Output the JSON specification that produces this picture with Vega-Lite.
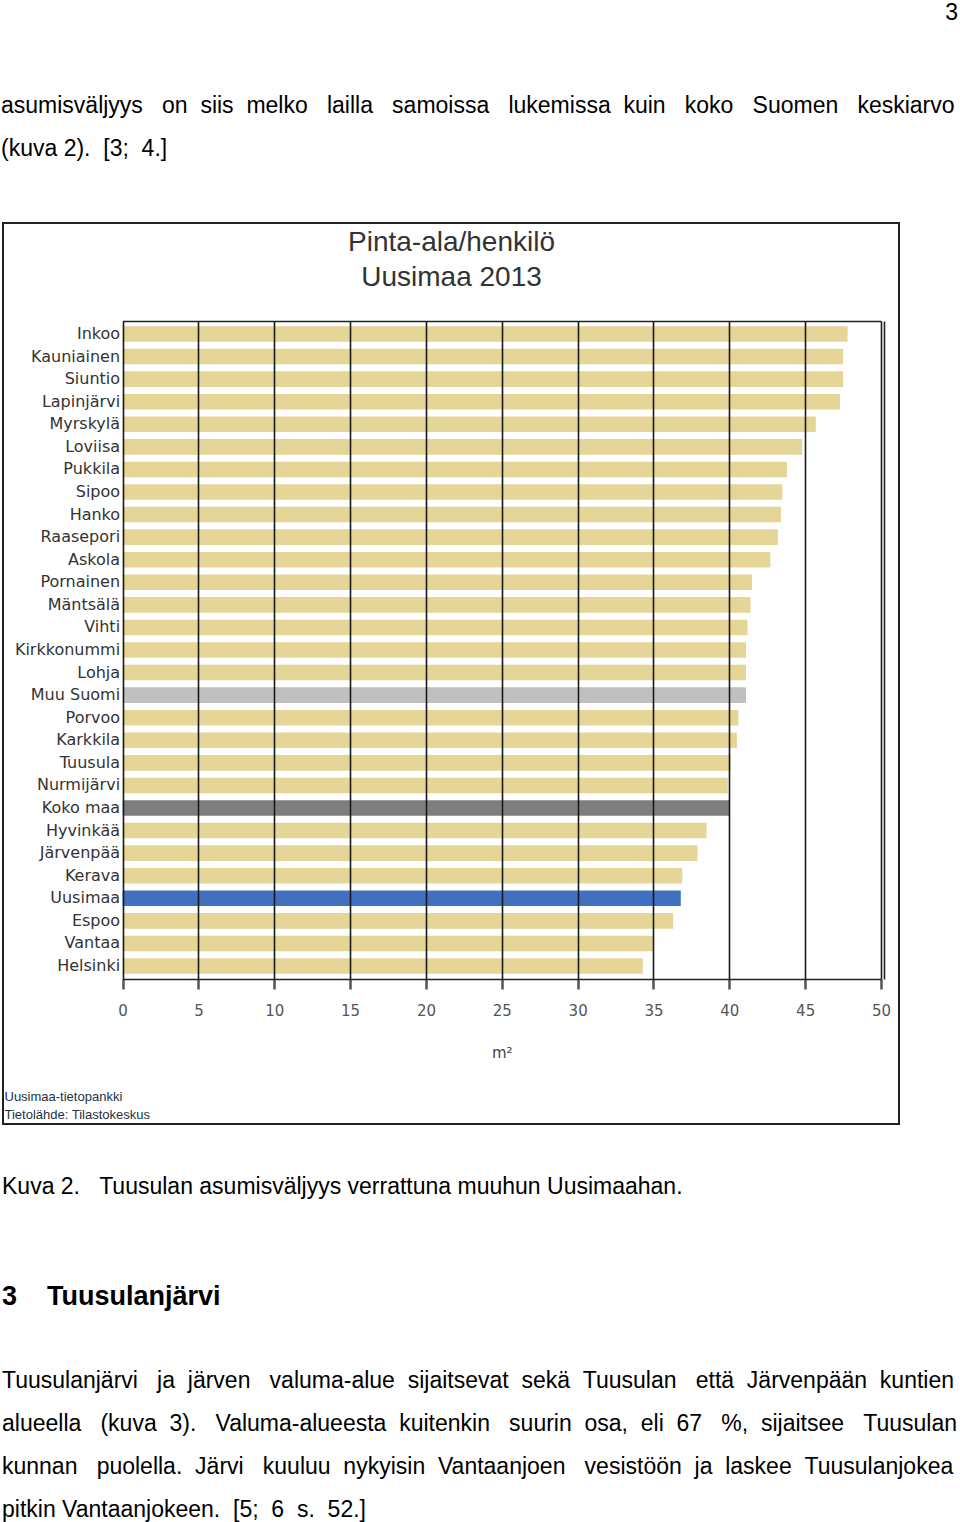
{
  "$schema": "https://vega.github.io/schema/vega-lite/v6.json",
  "padding": {"top": 2, "left": 0, "right": 0, "bottom": 0},
  "background": "white",
  "spacing": 51,
  "title": {"text": "3", "anchor": "end", "frame": "bounds", "font": "Liberation Sans", "fontSize": 23, "fontWeight": "normal", "color": "#000000", "offset": 69},
  "config": {"view": {"stroke": null}},
  "vconcat": [
    {
      "width": 896,
      "height": 901,
      "title": {
        "text": ["asumisväljyys\u00a0\u00a0\u00a0on\u00a0\u00a0siis\u00a0\u00a0melko\u00a0\u00a0\u00a0lailla\u00a0\u00a0\u00a0samoissa\u00a0\u00a0\u00a0lukemissa\u00a0\u00a0kuin\u00a0\u00a0\u00a0koko\u00a0\u00a0\u00a0Suomen\u00a0\u00a0\u00a0keskiarvo", "(kuva 2).\u00a0\u00a0[3;\u00a0\u00a04.]"],
        "anchor": "start", "frame": "group", "dx": -2,
        "font": "Liberation Sans", "fontSize": 23, "fontWeight": "normal", "color": "#000000",
        "lineHeight": 43, "offset": 62
      },
      "view": {"stroke": "#222222", "strokeWidth": 2},
      "data": {"values": [
        {"kunta": "Inkoo", "ala": 47.8, "tyyppi": "kunta"},
        {"kunta": "Kauniainen", "ala": 47.5, "tyyppi": "kunta"},
        {"kunta": "Siuntio", "ala": 47.5, "tyyppi": "kunta"},
        {"kunta": "Lapinjärvi", "ala": 47.3, "tyyppi": "kunta"},
        {"kunta": "Myrskylä", "ala": 45.7, "tyyppi": "kunta"},
        {"kunta": "Loviisa", "ala": 44.8, "tyyppi": "kunta"},
        {"kunta": "Pukkila", "ala": 43.8, "tyyppi": "kunta"},
        {"kunta": "Sipoo", "ala": 43.5, "tyyppi": "kunta"},
        {"kunta": "Hanko", "ala": 43.4, "tyyppi": "kunta"},
        {"kunta": "Raasepori", "ala": 43.2, "tyyppi": "kunta"},
        {"kunta": "Askola", "ala": 42.7, "tyyppi": "kunta"},
        {"kunta": "Pornainen", "ala": 41.5, "tyyppi": "kunta"},
        {"kunta": "Mäntsälä", "ala": 41.4, "tyyppi": "kunta"},
        {"kunta": "Vihti", "ala": 41.2, "tyyppi": "kunta"},
        {"kunta": "Kirkkonummi", "ala": 41.1, "tyyppi": "kunta"},
        {"kunta": "Lohja", "ala": 41.1, "tyyppi": "kunta"},
        {"kunta": "Muu Suomi", "ala": 41.1, "tyyppi": "muu"},
        {"kunta": "Porvoo", "ala": 40.6, "tyyppi": "kunta"},
        {"kunta": "Karkkila", "ala": 40.5, "tyyppi": "kunta"},
        {"kunta": "Tuusula", "ala": 40.1, "tyyppi": "kunta"},
        {"kunta": "Nurmijärvi", "ala": 39.9, "tyyppi": "kunta"},
        {"kunta": "Koko maa", "ala": 40.0, "tyyppi": "koko"},
        {"kunta": "Hyvinkää", "ala": 38.5, "tyyppi": "kunta"},
        {"kunta": "Järvenpää", "ala": 37.9, "tyyppi": "kunta"},
        {"kunta": "Kerava", "ala": 36.9, "tyyppi": "kunta"},
        {"kunta": "Uusimaa", "ala": 36.8, "tyyppi": "uusimaa"},
        {"kunta": "Espoo", "ala": 36.3, "tyyppi": "kunta"},
        {"kunta": "Vantaa", "ala": 35.0, "tyyppi": "kunta"},
        {"kunta": "Helsinki", "ala": 34.3, "tyyppi": "kunta"}
      ]},
      "resolve": {"axis": {"x": "independent", "y": "independent"}},
      "layer": [
        {
          "mark": {"type": "bar"},
          "encoding": {
            "y": {
              "field": "kunta", "type": "nominal", "sort": null,
              "scale": {"range": [98, 756], "paddingInner": 0.31, "paddingOuter": 0.23},
              "axis": {
                "orient": "left", "offset": -119.6, "domain": false, "ticks": false, "grid": false,
                "labelFont": "DejaVu Sans", "labelFontSize": 16, "labelColor": "#333333", "labelPadding": 3,
                "title": ["Uusimaa-tietopankki", "Tietolähde: Tilastokeskus"],
                "titleAngle": 0, "titleAlign": "left", "titleBaseline": "top",
                "titleX": -118.6, "titleY": 867,
                "titleFont": "Liberation Sans", "titleFontSize": 13, "titleFontWeight": "normal",
                "titleColor": "#223344", "titleLineHeight": 18
              }
            },
            "x": {
              "field": "ala", "type": "quantitative",
              "scale": {"domain": [0, 50], "range": [119.6, 878], "nice": false},
              "axis": {
                "orient": "bottom", "offset": -145, "values": [0, 5, 10, 15, 20, 25, 30, 35, 40, 45, 50],
                "grid": false, "labelFlush": false,
                "domain": true, "domainColor": "#222222", "domainWidth": 1.6,
                "ticks": true, "tickSize": 10, "tickColor": "#555555", "tickWidth": 2.5,
                "labelFont": "DejaVu Sans", "labelFontSize": 15, "labelColor": "#555555", "labelPadding": 14,
                "title": "m²", "titleFont": "DejaVu Sans", "titleFontSize": 15, "titleFontWeight": "normal",
                "titleColor": "#444444", "titlePadding": 27, "zindex": 1
              }
            },
            "color": {
              "field": "tyyppi", "type": "nominal",
              "scale": {"domain": ["kunta", "muu", "koko", "uusimaa"], "range": ["#E5D597", "#C0C0C0", "#7E7E7E", "#4070C0"]},
              "legend": null
            }
          }
        },
        {
          "mark": {"type": "bar", "opacity": 0},
          "encoding": {
            "y": {
              "field": "kunta", "type": "nominal", "sort": null,
              "axis": {"orient": "right", "offset": -15, "domain": true, "domainColor": "#222222", "domainWidth": 1.6, "labels": false, "ticks": false, "grid": false, "title": null}
            },
            "x": {
              "field": "ala", "type": "quantitative",
              "axis": {
                "orient": "top", "offset": -98, "values": [0, 5, 10, 15, 20, 25, 30, 35, 40, 45, 50],
                "domain": true, "domainColor": "#222222", "domainWidth": 1.6,
                "labels": false, "ticks": false,
                "grid": true, "gridColor": "#1a1a1a", "gridWidth": 1.6, "gridOpacity": 1, "zindex": 1,
                "title": ["Pinta-ala/henkilö", "Uusimaa 2013"],
                "titleX": 448, "titleY": -93, "titleAlign": "center", "titleBaseline": "top", "titleAngle": 0,
                "titleFont": "Liberation Sans", "titleFontSize": 28, "titleFontWeight": "normal",
                "titleColor": "#333333", "titleLineHeight": 35
              }
            }
          }
        }
      ]
    },
    {
      "width": 955,
      "height": 1,
      "data": {"values": []},
      "mark": {"type": "text"},
      "title": {
        "text": "Kuva 2.\u00a0\u00a0\u00a0Tuusulan asumisväljyys verrattuna muuhun Uusimaahan.",
        "anchor": "start", "frame": "group", "dx": -1,
        "font": "Liberation Sans", "fontSize": 23, "fontWeight": "normal", "color": "#000000", "offset": 32
      }
    },
    {
      "width": 955,
      "height": 1,
      "data": {"values": []},
      "mark": {"type": "text"},
      "title": {
        "text": "3\u00a0\u00a0\u00a0\u00a0Tuusulanjärvi",
        "subtitle": [
          "Tuusulanjärvi\u00a0\u00a0\u00a0ja\u00a0\u00a0järven\u00a0\u00a0\u00a0valuma-alue\u00a0\u00a0sijaitsevat\u00a0\u00a0sekä\u00a0\u00a0Tuusulan\u00a0\u00a0\u00a0että\u00a0\u00a0Järvenpään\u00a0\u00a0kuntien",
          "alueella\u00a0\u00a0\u00a0(kuva\u00a0\u00a03).\u00a0\u00a0\u00a0Valuma-alueesta\u00a0\u00a0kuitenkin\u00a0\u00a0\u00a0suurin\u00a0\u00a0osa,\u00a0\u00a0eli\u00a0\u00a067\u00a0\u00a0\u00a0%,\u00a0\u00a0sijaitsee\u00a0\u00a0\u00a0Tuusulan",
          "kunnan\u00a0\u00a0\u00a0puolella.\u00a0\u00a0Järvi\u00a0\u00a0\u00a0kuuluu\u00a0\u00a0nykyisin\u00a0\u00a0Vantaanjoen\u00a0\u00a0\u00a0vesistöön\u00a0\u00a0ja\u00a0\u00a0laskee\u00a0\u00a0Tuusulanjokea",
          "pitkin Vantaanjokeen.\u00a0\u00a0[5;\u00a0\u00a06\u00a0\u00a0s.\u00a0\u00a052.]"
        ],
        "anchor": "start", "frame": "group", "dx": -1,
        "font": "Liberation Sans", "fontSize": 27, "fontWeight": "bold", "color": "#000000",
        "subtitleFont": "Liberation Sans", "subtitleFontSize": 23, "subtitleFontWeight": "normal", "subtitleColor": "#000000",
        "subtitleLineHeight": 43, "subtitlePadding": 59, "offset": 0
      }
    }
  ]
}
